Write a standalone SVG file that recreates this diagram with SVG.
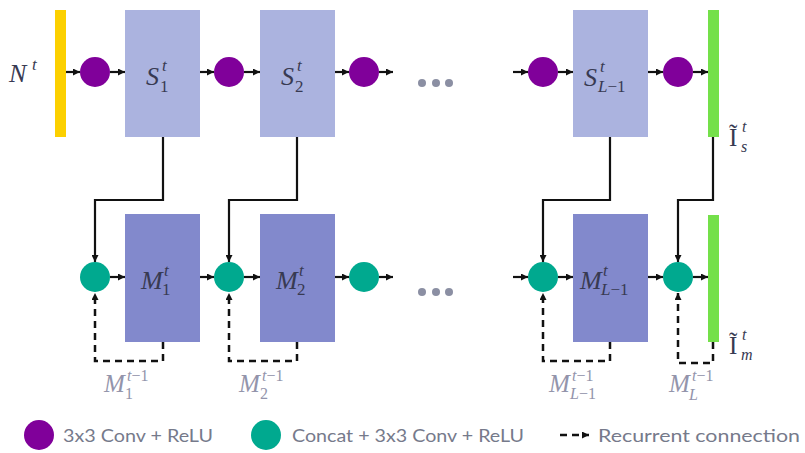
<svg xmlns="http://www.w3.org/2000/svg" width="805" height="453" viewBox="0 0 805 453">
<defs>
<marker id="ah" markerWidth="8" markerHeight="7" refX="7" refY="3.5" orient="auto" markerUnits="userSpaceOnUse">
<path d="M0,0 L7,3.5 L0,7 z" fill="#111"/>
</marker>
<style>
.sr{fill:#abb3df}
.mr{fill:#8289cc}
.pc{fill:#80009a}
.tc{fill:#00a98f}
.ar{stroke:#111;stroke-width:2.2;fill:none;marker-end:url(#ah)}
.ds{stroke:#111;stroke-width:2.5;fill:none;stroke-dasharray:7,5}
.m{font-family:"Liberation Serif","DejaVu Serif",serif;font-style:italic;fill:#383a52}
.g{font-family:"Liberation Serif","DejaVu Serif",serif;font-style:italic;fill:#9394ab}
.lg{font-family:"Lato","Open Sans",sans-serif;font-size:18px;fill:#767a8b}
</style>
</defs>
<g id="input-bar"><rect x="55" y="10" width="11" height="127" fill="#fcd000"/>
<text class="m" font-size="26"><tspan x="9" y="82">N</tspan><tspan x="32" y="70" font-size="17">t</tspan></text></g>
<g id="conv1"><circle class="pc" cx="95" cy="72" r="15"/></g>
<g id="S1"><rect class="sr" x="125" y="10" width="75" height="127"/>
<text class="m" font-size="26"><tspan x="146" y="85">S</tspan><tspan x="162" y="71" font-size="17">t</tspan><tspan x="160" y="92" font-size="17" font-style="normal">1</tspan></text></g>
<g id="conv2"><circle class="pc" cx="229" cy="72" r="15"/></g>
<g id="S2"><rect class="sr" x="260" y="10" width="75" height="127"/>
<text class="m" font-size="26"><tspan x="281" y="85">S</tspan><tspan x="297" y="71" font-size="17">t</tspan><tspan x="295" y="92" font-size="17" font-style="normal">2</tspan></text></g>
<g id="conv3"><circle class="pc" cx="364" cy="72" r="15"/></g>
<g id="dots-top"><circle cx="422" cy="83" r="4" fill="#8b8fa3"/><circle cx="436" cy="83" r="4" fill="#8b8fa3"/><circle cx="449" cy="83" r="4" fill="#8b8fa3"/></g>
<g id="conv4"><circle class="pc" cx="543" cy="72" r="15"/></g>
<g id="SL1"><rect class="sr" x="573" y="10" width="75" height="127"/>
<text class="m" font-size="26"><tspan x="584" y="86">S</tspan><tspan x="600" y="72" font-size="17">t</tspan><tspan x="598" y="92" font-size="17">L</tspan><tspan font-size="17" font-style="normal">−1</tspan></text></g>
<g id="conv5"><circle class="pc" cx="678" cy="72" r="15"/></g>
<g id="Is"><rect x="708" y="10" width="11" height="127" fill="#74e04a"/>
<text class="m" font-size="25"><tspan x="729" y="146" font-style="normal">Ĩ</tspan><tspan x="742" y="132" font-size="16">t</tspan><tspan x="741" y="152" font-size="16">s</tspan></text></g>

<g id="cc1"><circle class="tc" cx="95" cy="277" r="15"/></g>
<g id="M1"><rect class="mr" x="125" y="214" width="75" height="128"/>
<text class="m" font-size="26"><tspan x="141" y="289">M</tspan><tspan x="164" y="276" font-size="17">t</tspan><tspan x="162" y="295" font-size="17" font-style="normal">1</tspan></text></g>
<g id="cc2"><circle class="tc" cx="229" cy="277" r="15"/></g>
<g id="M2"><rect class="mr" x="260" y="214" width="75" height="128"/>
<text class="m" font-size="26"><tspan x="276" y="289">M</tspan><tspan x="299" y="276" font-size="17">t</tspan><tspan x="297" y="295" font-size="17" font-style="normal">2</tspan></text></g>
<g id="cc3"><circle class="tc" cx="364" cy="277" r="15"/></g>
<g id="dots-bot"><circle cx="422" cy="292" r="4" fill="#8b8fa3"/><circle cx="436" cy="292" r="4" fill="#8b8fa3"/><circle cx="449" cy="292" r="4" fill="#8b8fa3"/></g>
<g id="cc4"><circle class="tc" cx="543" cy="277" r="15"/></g>
<g id="ML1"><rect class="mr" x="573" y="214" width="75" height="128"/>
<text class="m" font-size="26"><tspan x="580" y="289">M</tspan><tspan x="603" y="276" font-size="17">t</tspan><tspan x="601" y="295" font-size="17">L</tspan><tspan font-size="17" font-style="normal">−1</tspan></text></g>
<g id="cc5"><circle class="tc" cx="678" cy="277" r="15"/></g>
<g id="Im"><rect x="708" y="215" width="11" height="127" fill="#74e04a"/>
<text class="m" font-size="25"><tspan x="729" y="354" font-style="normal">Ĩ</tspan><tspan x="742" y="340" font-size="16">t</tspan><tspan x="741" y="360" font-size="16">m</tspan></text></g>

<g id="labels-prev">
<text class="g" font-size="25"><tspan x="104" y="392">M</tspan><tspan x="127" y="381" font-size="16">t</tspan><tspan font-size="16" font-style="normal">−1</tspan><tspan x="125" y="399" font-size="16" font-style="normal">1</tspan></text>
<text class="g" font-size="25"><tspan x="239" y="392">M</tspan><tspan x="262" y="381" font-size="16">t</tspan><tspan font-size="16" font-style="normal">−1</tspan><tspan x="260" y="399" font-size="16" font-style="normal">2</tspan></text>
<text class="g" font-size="25"><tspan x="549" y="392">M</tspan><tspan x="572" y="381" font-size="16">t</tspan><tspan font-size="16" font-style="normal">−1</tspan><tspan x="570" y="399" font-size="16">L</tspan><tspan font-size="16" font-style="normal">−1</tspan></text>
<text class="g" font-size="25"><tspan x="669" y="392">M</tspan><tspan x="692" y="381" font-size="16">t</tspan><tspan font-size="16" font-style="normal">−1</tspan><tspan x="689" y="400" font-size="16">L</tspan></text>
</g>

<g id="connectors">
<line class="ar" x1="66" y1="72" x2="80" y2="72"/>
<line class="ar" x1="110" y1="72" x2="125" y2="72"/>
<line class="ar" x1="200" y1="72" x2="214" y2="72"/>
<line class="ar" x1="244" y1="72" x2="260" y2="72"/>
<line class="ar" x1="335" y1="72" x2="349" y2="72"/>
<line class="ar" x1="379" y1="72" x2="393" y2="72"/>
<line class="ar" x1="513" y1="72" x2="528" y2="72"/>
<line class="ar" x1="558" y1="72" x2="573" y2="72"/>
<line class="ar" x1="648" y1="72" x2="663" y2="72"/>
<line class="ar" x1="693" y1="72" x2="708" y2="72"/>

<line class="ar" x1="110" y1="277" x2="125" y2="277"/>
<line class="ar" x1="200" y1="277" x2="214" y2="277"/>
<line class="ar" x1="244" y1="277" x2="260" y2="277"/>
<line class="ar" x1="335" y1="277" x2="349" y2="277"/>
<line class="ar" x1="379" y1="277" x2="393" y2="277"/>
<line class="ar" x1="513" y1="277" x2="528" y2="277"/>
<line class="ar" x1="558" y1="277" x2="573" y2="277"/>
<line class="ar" x1="648" y1="277" x2="663" y2="277"/>
<line class="ar" x1="693" y1="277" x2="708" y2="277"/>

<path class="ar" d="M163,137 V200 H95 V262"/>
<path class="ar" d="M297,137 V200 H229 V262"/>
<path class="ar" d="M610,137 V200 H543 V262"/>
<path class="ar" d="M713,137 V200 H678 V262"/>

<path class="ds" d="M163,342 V361 H95 V293" marker-end="url(#ah)"/>
<path class="ds" d="M297,342 V361 H229 V293" marker-end="url(#ah)"/>
<path class="ds" d="M610,342 V361 H543 V293" marker-end="url(#ah)"/>
<path class="ds" d="M713,342 V363 H678 V293" marker-end="url(#ah)"/>
</g>

<g id="legend">
<circle class="pc" cx="39" cy="435" r="15"/>
<text class="lg" x="63" y="442" textLength="150" lengthAdjust="spacingAndGlyphs">3x3 Conv + ReLU</text>
<circle class="tc" cx="266" cy="435" r="15"/>
<text class="lg" x="292" y="442" textLength="232" lengthAdjust="spacingAndGlyphs">Concat + 3x3 Conv + ReLU</text>
<path class="ds" d="M560,435 H589" stroke-dasharray="5,3" marker-end="url(#ah)"/>
<text class="lg" x="598" y="442" textLength="202" lengthAdjust="spacingAndGlyphs">Recurrent connection</text>
</g>
</svg>
